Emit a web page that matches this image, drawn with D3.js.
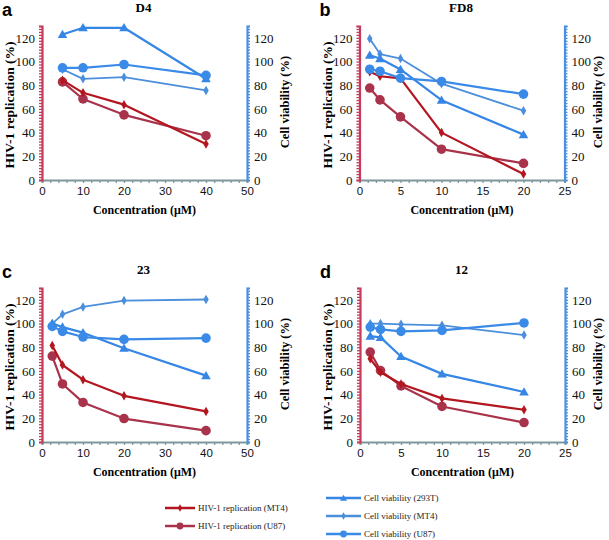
<!DOCTYPE html>
<html><head><meta charset="utf-8">
<script src="https://cdn.jsdelivr.net/npm/d3@7"></script>
<style>body{margin:0;background:#fff}svg{display:block}</style>
</head><body><svg id="c" width="609" height="540"></svg>
<script>
// ---- data ----
const panelLetters = ["a","b","c","d"];
const panelTitles = ["D4","FD8","23","12"];
const xMaxes = [50,25,50,25];
const xTicksWide = [0,10,20,30,40,50];
const xTicksNarrow = [0,5,10,15,20,25];
const yTicks = [0,20,40,60,80,100,120];

const concA = [5,10,20,40];
const concB = [1.25,2.5,5,10,20];
const concC = [2.5,5,10,20,40];
const concD = [1.25,2.5,5,10,20];

// panel a (D4)
const a_via293T = [122.8,128.5,128.5,85.5];
const a_viaMT4  = [93.5,85.4,86.8,75.6];
const a_viaU87  = [94.7,94.7,97.5,88.3];
const a_hivMT4  = [84.3,73.6,63.6,30.3];
const a_hivU87  = [82.8,68.4,55,37.4];
// panel b (FD8)
const b_via293T = [105.3,102.5,93.3,67.4,38.3];
const b_viaMT4  = [119.2,106.3,102.5,81.3,58.5];
const b_viaU87  = [93.5,91.8,86,83.2,72.5];
const b_hivMT4  = [91.3,87.6,85.8,40,5];
const b_hivU87  = [77.6,67.6,53.3,26,14];
// panel c (23)
const c_via293T = [100,97,92.3,79.2,56];
const c_viaMT4  = [99.9,107.8,114,119.4,120.3];
const c_viaU87  = [97.6,93.4,88.6,86.6,87.7];
const c_hivMT4  = [81.5,65,52.6,39,25.8];
const c_hivU87  = [72.5,49,33.4,19.8,9.6];
// panel d (12)
const d_via293T = [89.4,88.3,72.2,57.5,42.2];
const d_viaMT4  = [99.9,100,99.3,98.5,90.3];
const d_viaU87  = [97,95,93.4,94.2,100.5];
const d_hivMT4  = [70.2,58.9,49,36.8,27.2];
const d_hivU87  = [75.9,60.3,47.3,30,16.4];

const seriesNames = ["HIV-1 replication (MT4)","HIV-1 replication (U87)","Cell viability (293T)","Cell viability (MT4)","Cell viability (U87)"];

// ---- styles ----
const RED1 = "#b3161f", RED2 = "#a9334a", BLUE1 = "#3686e6", BLUE2 = "#4b8fdc", BLUE3 = "#3a8ae8";
const serif = "'Liberation Serif','Times New Roman',serif";
const sans = "'Liberation Sans',Arial,sans-serif";
const styles = [
  {key:"hivMT4", color:RED1, shape:"diamond", w:2.2},
  {key:"hivU87", color:RED2, shape:"circle", w:2.2},
  {key:"via293T", color:BLUE1, shape:"triangle", w:2.2},
  {key:"viaMT4", color:BLUE2, shape:"diamond", w:1.8},
  {key:"viaU87", color:BLUE3, shape:"circle", w:2.2}
];
const panelsData = [
  {conc:concA, via293T:a_via293T, viaMT4:a_viaMT4, viaU87:a_viaU87, hivMT4:a_hivMT4, hivU87:a_hivU87},
  {conc:concB, via293T:b_via293T, viaMT4:b_viaMT4, viaU87:b_viaU87, hivMT4:b_hivMT4, hivU87:b_hivU87},
  {conc:concC, via293T:c_via293T, viaMT4:c_viaMT4, viaU87:c_viaU87, hivMT4:c_hivMT4, hivU87:c_hivU87},
  {conc:concD, via293T:d_via293T, viaMT4:d_viaMT4, viaU87:d_viaU87, hivMT4:d_hivMT4, hivU87:d_hivU87}
];
const layout = [
  {l:42, r:247, y0:180, rt:42},
  {l:359.5, r:564.5, y0:180, rt:37.5},
  {l:42, r:247, y0:442, rt:42},
  {l:360, r:565, y0:442, rt:37}
];
const svg = d3.select("#c");

function marker(g, shape, x, y, color, s) {
  if (shape === "circle") {
    g.append("circle").attr("cx",x).attr("cy",y).attr("r",s||4.8).attr("fill",color);
  } else if (shape === "diamond") {
    const sym = d3.symbol().type(d3.symbolDiamond).size(s||26);
    g.append("path").attr("d",sym()).attr("transform",`translate(${x},${y})`).attr("fill",color);
  } else {
    const sym = d3.symbol().type(d3.symbolTriangle).size(s||40);
    g.append("path").attr("d",sym()).attr("transform",`translate(${x},${y+0.8})`).attr("fill",color);
  }
}

panelsData.forEach((pd, i) => {
  const L = layout[i];
  const g = svg.append("g");
  const x = d3.scaleLinear().domain([0, xMaxes[i]]).range([L.l, L.r]);
  const y = d3.scaleLinear().domain([0, 130]).range([L.y0, L.y0 - 154]);
  const xt = xMaxes[i] === 50 ? xTicksWide : xTicksNarrow;
  const minorStep = xMaxes[i] === 50 ? 2 : 1;

  // bottom axis
  const bx = g.append("g").attr("transform",`translate(0,${L.y0})`)
    .call(d3.axisBottom(x).tickValues(d3.range(0, xMaxes[i] + 0.01, minorStep)).tickSize(3).tickFormat(""));
  bx.select(".domain").attr("stroke","#7e979c").attr("stroke-width",2);
  bx.selectAll(".tick line").attr("stroke","#7e979c").attr("stroke-width",1.3);
  const bl = g.append("g").attr("transform",`translate(0,${L.y0})`)
    .call(d3.axisBottom(x).tickValues(xt).tickSize(0).tickPadding(7));
  bl.select(".domain").remove();
  bl.selectAll("text").attr("font-family",sans).attr("font-size",11.5).attr("fill","#111");

  // left axis
  const la = g.append("g").attr("transform",`translate(${L.l},0)`)
    .call(d3.axisLeft(y).tickValues(d3.range(0, 130.1, 2.5)).tickSize(3).tickFormat(""));
  la.select(".domain").attr("stroke","#c63a5c").attr("stroke-width",2.2);
  la.selectAll(".tick line").attr("stroke","#c63a5c").attr("stroke-width",1.3);
  const ll = g.append("g").attr("transform",`translate(${L.l},0)`)
    .call(d3.axisLeft(y).tickValues(yTicks).tickSize(0).tickPadding(7));
  ll.select(".domain").remove();
  ll.selectAll("text").attr("font-family",serif).attr("font-size",13).attr("fill","#111");

  // right axis
  const ra = g.append("g").attr("transform",`translate(${L.r},0)`)
    .call(d3.axisRight(y).tickValues(d3.range(0, 130.1, 2.5)).tickSize(3).tickFormat(""));
  ra.select(".domain").attr("stroke","#4a90e2").attr("stroke-width",2.2);
  ra.selectAll(".tick line").attr("stroke","#4a90e2").attr("stroke-width",1.3);
  const rl = g.append("g").attr("transform",`translate(${L.r},0)`)
    .call(d3.axisRight(y).tickValues(yTicks).tickSize(0).tickPadding(7));
  rl.select(".domain").remove();
  rl.selectAll("text").attr("font-family",serif).attr("font-size",13).attr("fill","#111");

  // axis titles
  const cx = (L.l + L.r) / 2;
  g.append("text").attr("x",cx).attr("y",L.y0 + 34).attr("text-anchor","middle")
    .attr("font-family",serif).attr("font-weight","bold").attr("font-size",12).text("Concentration (μM)");
  g.append("text").attr("transform",`translate(${L.l - 28},${L.y0 - 75}) rotate(-90)`)
    .attr("text-anchor","middle").attr("font-family",serif).attr("font-weight","bold").attr("font-size",13.5)
    .text("HIV-1 replication (%)");
  g.append("text").attr("transform",`translate(${L.r + L.rt},${L.y0 - 78}) rotate(-90)`)
    .attr("text-anchor","middle").attr("font-family",serif).attr("font-weight","bold").attr("font-size",12.5)
    .text("Cell viability (%)");
  // panel title & letter
  g.append("text").attr("x",cx - 1).attr("y",L.y0 - 168).attr("text-anchor","middle")
    .attr("font-family",serif).attr("font-weight","bold").attr("font-size",13).text(panelTitles[i]);
  g.append("text").attr("x",L.l - 40).attr("y",L.y0 - 164).attr("font-family",sans)
    .attr("font-weight","bold").attr("font-size",18).text(panelLetters[i]);

  // series
  const order = ["hivU87","hivMT4","viaMT4","via293T","viaU87"];
  order.forEach(k => {
    const st = styles.find(s => s.key === k);
    const vals = pd[k];
    const pts = pd.conc.map((c, j) => [x(c), y(vals[j])]);
    g.append("path").attr("d", d3.line()(pts)).attr("fill","none")
      .attr("stroke", st.color).attr("stroke-width", st.w).attr("stroke-linejoin","round");
    pts.forEach(p => marker(g, st.shape, p[0], p[1], st.color));
  });
});

// legend
const legendPos = [[165,508],[165,526],[326,498],[326,516],[326,534]];
styles.forEach((st, i) => {
  const [lx, ly] = legendPos[i];
  const len = i < 2 ? 30 : 35;
  const g = svg.append("g");
  g.append("line").attr("x1",lx).attr("x2",lx+len).attr("y1",ly).attr("y2",ly)
    .attr("stroke",st.color).attr("stroke-width",2.5);
  marker(g, st.shape, lx + len/2, ly, st.color, st.shape === "circle" ? 3.4 : (st.shape === "diamond" ? 16 : 22));
  g.append("text").attr("x",lx+len+3).attr("y",ly+3).attr("font-family",serif)
    .attr("font-size",9).attr("fill","#222").text(seriesNames[i]);
});
</script></body></html>
